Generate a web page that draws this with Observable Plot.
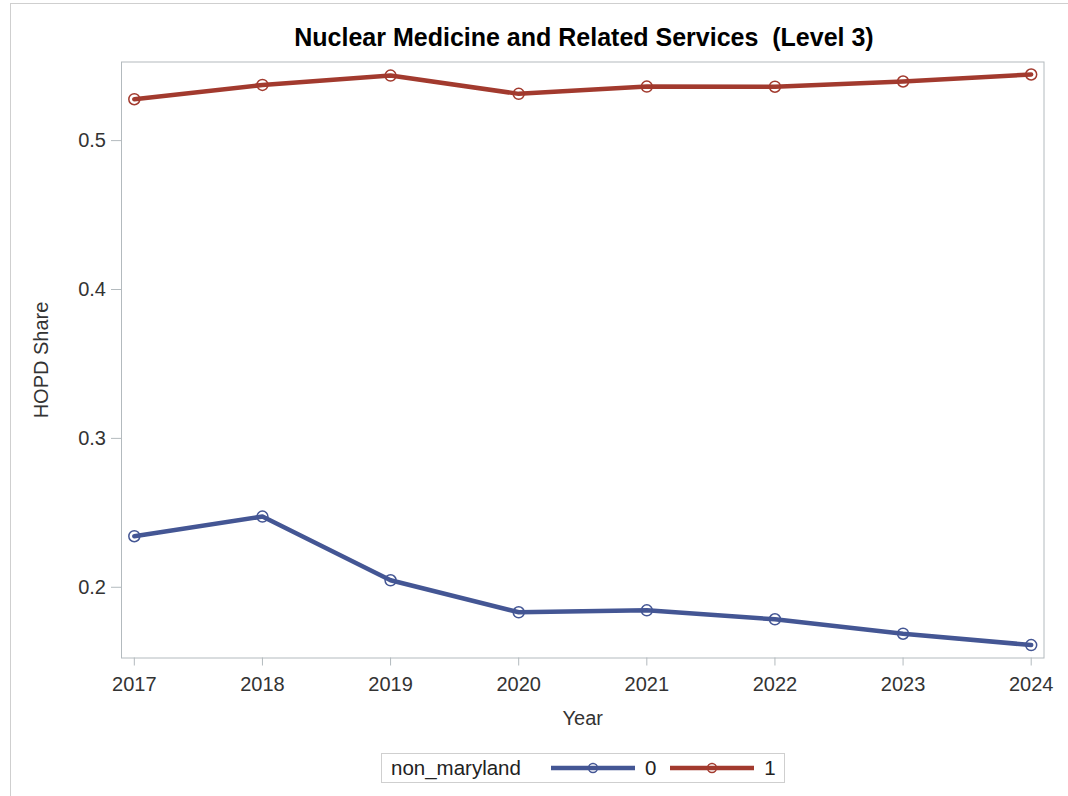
<!DOCTYPE html>
<html>
<head>
<meta charset="utf-8">
<script src="https://cdn.jsdelivr.net/npm/d3@7"></script>
<script src="https://cdn.jsdelivr.net/npm/@observablehq/plot@0.6"></script>
<style>
  html, body { margin: 0; padding: 0; background: #fff; }
  body { width: 1068px; height: 796px; position: relative; overflow: hidden; font-family: "Liberation Sans", Arial, sans-serif; }
  #border { position: absolute; left: 10px; top: 3px; width: 1070px; height: 800px; border-top: 1px solid #cfcfcf; border-left: 1px solid #cfcfcf; box-sizing: border-box; }
  #title { position: absolute; left: 584px; top: 24px; transform: translateX(-50%); white-space: pre; font-weight: bold; font-size: 25px; line-height: 26px; color: #000; }
  #chart { position: absolute; left: 0; top: 50px; }
  #legend { position: absolute; left: 381px; top: 753px; width: 404px; height: 30px; box-sizing: border-box; border: 1px solid #cfcfcf; display: flex; align-items: center; font-size: 20.5px; color: #222; }
  #legend .ttl { margin-left: 9px; margin-right: 30px; }
  #legend .item { display: flex; align-items: center; }
  #legend .item span { margin-left: 10px; margin-right: 14px; }
</style>
</head>
<body>
<div id="border"></div>
<div id="title"></div>
<div id="chart"></div>
<div id="legend"></div>
<script>
const titleText = "Nuclear Medicine and Related Services  (Level 3)";
const xLabel = "Year";
const yLabel = "HOPD Share";
const legendTitle = "non_maryland";
const years = [2017, 2018, 2019, 2020, 2021, 2022, 2023, 2024];
const groups = ["0", "1"];
const colors = ["#445694", "#A23A2E"];
const share0 = [0.2343, 0.2475, 0.2047, 0.1832, 0.1845, 0.1785, 0.1688, 0.1612];
const share1 = [0.5278, 0.5374, 0.5437, 0.5314, 0.5363, 0.5362, 0.5397, 0.5444];
const yTicks = [0.2, 0.3, 0.4, 0.5];

const data = years.flatMap((yr, i) => [
  {year: yr, share: share0[i], group: groups[0]},
  {year: yr, share: share1[i], group: groups[1]}
]);

document.getElementById("title").textContent = titleText;

const gray = "#b3babe";
const chart = Plot.plot({
  width: 1068,
  height: 700,
  marginTop: 11.5,
  marginBottom: 92.5,
  marginLeft: 121,
  marginRight: 24.5,
  style: {fontFamily: "'Liberation Sans', Arial, sans-serif", fontSize: "20px", background: "transparent", color: "#333"},
  x: {domain: [2016.9, 2024.1]},
  y: {domain: [0.1525, 0.5528]},
  color: {domain: groups, range: colors},
  marks: [
    Plot.frame({stroke: gray}),
    Plot.axisX({ticks: years, tickFormat: d => String(d), tickSize: 8, tickPadding: 10.5, stroke: gray, color: "#333",
      label: xLabel, labelAnchor: "center", labelOffset: 67, labelArrow: "none"}),
    Plot.axisY({ticks: yTicks, tickFormat: d3.format(".1f"), tickSize: 10, tickPadding: 5.5, stroke: gray, color: "#333",
      label: yLabel, labelAnchor: "center", labelOffset: 88, labelArrow: "none"}),
    Plot.line(data, {x: "year", y: "share", z: "group", stroke: "group", strokeWidth: 4.5}),
    Plot.dot(data, {x: "year", y: "share", stroke: "group", r: 5.5, strokeWidth: 1.5, fill: "none"})
  ]
});
document.getElementById("chart").appendChild(chart);

const legend = document.getElementById("legend");
const t = document.createElement("div");
t.className = "ttl";
t.textContent = legendTitle;
legend.appendChild(t);
groups.forEach((g, i) => {
  const item = document.createElement("div");
  item.className = "item";
  const ns = "http://www.w3.org/2000/svg";
  const svg = document.createElementNS(ns, "svg");
  svg.setAttribute("width", 84);
  svg.setAttribute("height", 14);
  const ln = document.createElementNS(ns, "line");
  ln.setAttribute("x1", 0); ln.setAttribute("x2", 84);
  ln.setAttribute("y1", 7); ln.setAttribute("y2", 7);
  ln.setAttribute("stroke", colors[i]); ln.setAttribute("stroke-width", 4.5);
  svg.appendChild(ln);
  const c = document.createElementNS(ns, "circle");
  c.setAttribute("cx", 42); c.setAttribute("cy", 7); c.setAttribute("r", 4.5);
  c.setAttribute("fill", "none"); c.setAttribute("stroke", colors[i]); c.setAttribute("stroke-width", 1.5);
  svg.appendChild(c);
  item.appendChild(svg);
  const s = document.createElement("span");
  s.textContent = g;
  item.appendChild(s);
  legend.appendChild(item);
});
</script>
</body>
</html>
